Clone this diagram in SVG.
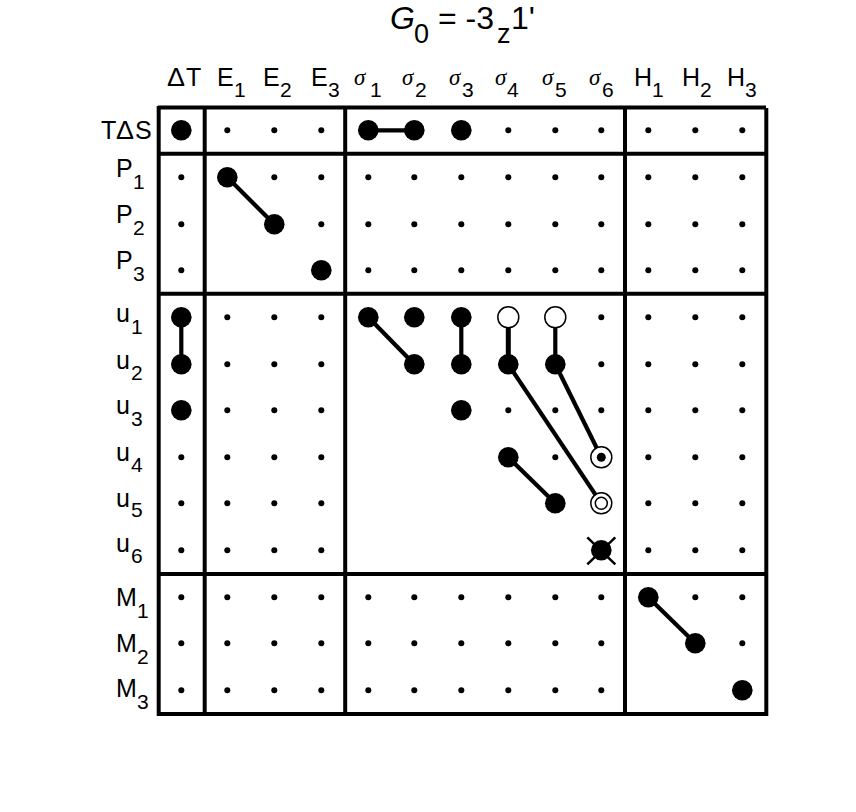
<svg xmlns="http://www.w3.org/2000/svg" xmlns:xlink="http://www.w3.org/1999/xlink" width="856" height="812" viewBox="0 0 856 812">
<style>
text{font-family:"Liberation Sans",Arial,sans-serif;fill:#000}
.m{font-size:25px}
.s{font-size:21px}
.g{font-family:"Liberation Serif","Times New Roman",serif;font-style:italic;font-size:23px}
.t{font-size:32px}
.ts{font-size:27px}
.grid line{stroke:#000;stroke-width:4}
.conn line{stroke:#000;stroke-width:4.200}
.open{fill:#fff;stroke:#000;stroke-width:1.500}
</style>
<defs>
<circle id="dot" r="3" fill="#000"/>
<circle id="b" r="10.300" fill="#000"/>
</defs>
<rect width="856" height="812" fill="#fff"/>
<g id="title"><text class="t" x="390" y="29" font-style="italic">G</text><text class="ts" x="414" y="43">0</text><text class="t" x="438" y="29">= -3</text><text class="ts" x="497" y="43">z</text><text class="t" x="511" y="29">1'</text></g>
<g id="column-labels">
<text class="m" x="167" y="86" textLength="18" lengthAdjust="spacingAndGlyphs">Δ</text><text class="m" x="186" y="86">T</text>
<text class="m" x="217" y="86">E</text><text class="s" x="234" y="97">1</text>
<text class="m" x="263" y="86">E</text><text class="s" x="280" y="97">2</text>
<text class="m" x="311" y="86">E</text><text class="s" x="328" y="97">3</text>
<text class="g" x="354" y="85">σ</text><text class="s" x="370" y="97">1</text>
<text class="g" x="402" y="85">σ</text><text class="s" x="415" y="97">2</text>
<text class="g" x="449" y="85">σ</text><text class="s" x="462" y="97">3</text>
<text class="g" x="495" y="85">σ</text><text class="s" x="507" y="97">4</text>
<text class="g" x="542" y="85">σ</text><text class="s" x="555" y="97">5</text>
<text class="g" x="589" y="85">σ</text><text class="s" x="602" y="97">6</text>
<text class="m" x="634" y="86">H</text><text class="s" x="652" y="97">1</text>
<text class="m" x="682" y="86">H</text><text class="s" x="700" y="97">2</text>
<text class="m" x="727" y="86">H</text><text class="s" x="745" y="97">3</text>
</g>
<g id="row-labels">
<text class="m" x="101" y="139">T</text><text class="m" x="116" y="139" textLength="18" lengthAdjust="spacingAndGlyphs">Δ</text><text class="m" x="135" y="139">S</text>
<text class="m" x="116" y="177">P</text><text class="s" x="133" y="189">1</text>
<text class="m" x="116" y="223">P</text><text class="s" x="133" y="235">2</text>
<text class="m" x="116" y="269">P</text><text class="s" x="133" y="281">3</text>
<text class="m" x="116" y="322">u</text><text class="s" x="131" y="334">1</text>
<text class="m" x="116" y="369">u</text><text class="s" x="131" y="380">2</text>
<text class="m" x="116" y="414">u</text><text class="s" x="131" y="426">3</text>
<text class="m" x="116" y="461">u</text><text class="s" x="131" y="472">4</text>
<text class="m" x="116" y="507">u</text><text class="s" x="131" y="517">5</text>
<text class="m" x="116" y="552">u</text><text class="s" x="131" y="563">6</text>
<text class="m" x="116" y="606">M</text><text class="s" x="137" y="618">1</text>
<text class="m" x="116" y="652">M</text><text class="s" x="137" y="664">2</text>
<text class="m" x="116" y="697">M</text><text class="s" x="137" y="709">3</text>
</g>
<g id="grid" class="grid">
<line x1="158" y1="107.500" x2="766" y2="107.500"/>
<line x1="158" y1="153.700" x2="767" y2="153.700"/>
<line x1="158" y1="293.700" x2="767" y2="293.700"/>
<line x1="158" y1="574" x2="767" y2="574"/>
<line x1="158" y1="714" x2="767" y2="714"/>
<line x1="158.700" y1="106" x2="158.700" y2="716"/>
<line x1="204.700" y1="106" x2="204.700" y2="716"/>
<line x1="345.200" y1="106" x2="345.200" y2="716"/>
<line x1="625" y1="106" x2="625" y2="716"/>
<line x1="766.300" y1="108" x2="766.300" y2="716"/>
</g>
<g id="connectors" class="conn" transform="translate(.3 .3)">
<line x1="368" y1="130" x2="414" y2="130"/>
<line x1="227" y1="177" x2="274" y2="224"/>
<line x1="181" y1="317" x2="181" y2="364"/>
<line x1="368" y1="317" x2="414" y2="364"/>
<line x1="461" y1="317" x2="461" y2="364"/>
<line x1="508" y1="317" x2="508" y2="364" style="stroke-width:5"/>
<line x1="555" y1="317" x2="555" y2="364"/>
<line x1="508" y1="364" x2="601" y2="503"/>
<line x1="555" y1="364" x2="601" y2="457"/>
<line x1="508" y1="457" x2="555" y2="503"/>
<line x1="648" y1="597" x2="695" y2="643"/>
</g>
<g id="small-nodes" transform="translate(.3 .3)">
<use xlink:href="#dot" x="227" y="130"/><use xlink:href="#dot" x="274" y="130"/><use xlink:href="#dot" x="321" y="130"/><use xlink:href="#dot" x="508" y="130"/><use xlink:href="#dot" x="555" y="130"/><use xlink:href="#dot" x="601" y="130"/><use xlink:href="#dot" x="648" y="130"/><use xlink:href="#dot" x="695" y="130"/><use xlink:href="#dot" x="742" y="130"/>
<use xlink:href="#dot" x="181" y="177"/><use xlink:href="#dot" x="274" y="177"/><use xlink:href="#dot" x="321" y="177"/><use xlink:href="#dot" x="368" y="177"/><use xlink:href="#dot" x="414" y="177"/><use xlink:href="#dot" x="461" y="177"/><use xlink:href="#dot" x="508" y="177"/><use xlink:href="#dot" x="555" y="177"/><use xlink:href="#dot" x="601" y="177"/><use xlink:href="#dot" x="648" y="177"/><use xlink:href="#dot" x="695" y="177"/><use xlink:href="#dot" x="742" y="177"/>
<use xlink:href="#dot" x="181" y="224"/><use xlink:href="#dot" x="321" y="224"/><use xlink:href="#dot" x="368" y="224"/><use xlink:href="#dot" x="414" y="224"/><use xlink:href="#dot" x="461" y="224"/><use xlink:href="#dot" x="508" y="224"/><use xlink:href="#dot" x="555" y="224"/><use xlink:href="#dot" x="601" y="224"/><use xlink:href="#dot" x="648" y="224"/><use xlink:href="#dot" x="695" y="224"/><use xlink:href="#dot" x="742" y="224"/>
<use xlink:href="#dot" x="181" y="270"/><use xlink:href="#dot" x="368" y="270"/><use xlink:href="#dot" x="414" y="270"/><use xlink:href="#dot" x="461" y="270"/><use xlink:href="#dot" x="508" y="270"/><use xlink:href="#dot" x="555" y="270"/><use xlink:href="#dot" x="601" y="270"/><use xlink:href="#dot" x="648" y="270"/><use xlink:href="#dot" x="695" y="270"/><use xlink:href="#dot" x="742" y="270"/>
<use xlink:href="#dot" x="227" y="317"/><use xlink:href="#dot" x="274" y="317"/><use xlink:href="#dot" x="321" y="317"/><use xlink:href="#dot" x="601" y="317"/><use xlink:href="#dot" x="648" y="317"/><use xlink:href="#dot" x="695" y="317"/><use xlink:href="#dot" x="742" y="317"/>
<use xlink:href="#dot" x="227" y="364"/><use xlink:href="#dot" x="274" y="364"/><use xlink:href="#dot" x="321" y="364"/><use xlink:href="#dot" x="601" y="364"/><use xlink:href="#dot" x="648" y="364"/><use xlink:href="#dot" x="695" y="364"/><use xlink:href="#dot" x="742" y="364"/>
<use xlink:href="#dot" x="227" y="410"/><use xlink:href="#dot" x="274" y="410"/><use xlink:href="#dot" x="321" y="410"/><use xlink:href="#dot" x="508" y="410"/><use xlink:href="#dot" x="555" y="410"/><use xlink:href="#dot" x="601" y="410"/><use xlink:href="#dot" x="648" y="410"/><use xlink:href="#dot" x="695" y="410"/><use xlink:href="#dot" x="742" y="410"/>
<use xlink:href="#dot" x="181" y="457"/><use xlink:href="#dot" x="227" y="457"/><use xlink:href="#dot" x="274" y="457"/><use xlink:href="#dot" x="321" y="457"/><use xlink:href="#dot" x="555" y="457"/><use xlink:href="#dot" x="648" y="457"/><use xlink:href="#dot" x="695" y="457"/><use xlink:href="#dot" x="742" y="457"/>
<use xlink:href="#dot" x="181" y="503"/><use xlink:href="#dot" x="227" y="503"/><use xlink:href="#dot" x="274" y="503"/><use xlink:href="#dot" x="321" y="503"/><use xlink:href="#dot" x="648" y="503"/><use xlink:href="#dot" x="695" y="503"/><use xlink:href="#dot" x="742" y="503"/>
<use xlink:href="#dot" x="181" y="550"/><use xlink:href="#dot" x="227" y="550"/><use xlink:href="#dot" x="274" y="550"/><use xlink:href="#dot" x="321" y="550"/><use xlink:href="#dot" x="648" y="550"/><use xlink:href="#dot" x="695" y="550"/><use xlink:href="#dot" x="742" y="550"/>
<use xlink:href="#dot" x="181" y="597"/><use xlink:href="#dot" x="227" y="597"/><use xlink:href="#dot" x="274" y="597"/><use xlink:href="#dot" x="321" y="597"/><use xlink:href="#dot" x="368" y="597"/><use xlink:href="#dot" x="414" y="597"/><use xlink:href="#dot" x="461" y="597"/><use xlink:href="#dot" x="508" y="597"/><use xlink:href="#dot" x="555" y="597"/><use xlink:href="#dot" x="601" y="597"/><use xlink:href="#dot" x="695" y="597"/><use xlink:href="#dot" x="742" y="597"/>
<use xlink:href="#dot" x="181" y="643"/><use xlink:href="#dot" x="227" y="643"/><use xlink:href="#dot" x="274" y="643"/><use xlink:href="#dot" x="321" y="643"/><use xlink:href="#dot" x="368" y="643"/><use xlink:href="#dot" x="414" y="643"/><use xlink:href="#dot" x="461" y="643"/><use xlink:href="#dot" x="508" y="643"/><use xlink:href="#dot" x="555" y="643"/><use xlink:href="#dot" x="601" y="643"/><use xlink:href="#dot" x="742" y="643"/>
<use xlink:href="#dot" x="181" y="690"/><use xlink:href="#dot" x="227" y="690"/><use xlink:href="#dot" x="274" y="690"/><use xlink:href="#dot" x="321" y="690"/><use xlink:href="#dot" x="368" y="690"/><use xlink:href="#dot" x="414" y="690"/><use xlink:href="#dot" x="461" y="690"/><use xlink:href="#dot" x="508" y="690"/><use xlink:href="#dot" x="555" y="690"/><use xlink:href="#dot" x="601" y="690"/>
</g>
<g id="large-nodes" transform="translate(.3 .3)">
<g id="n-TdS-dT"><use xlink:href="#b" x="181" y="130"/></g>
<g id="n-TdS-s1"><use xlink:href="#b" x="368" y="130"/></g>
<g id="n-TdS-s2"><use xlink:href="#b" x="414" y="130"/></g>
<g id="n-TdS-s3"><use xlink:href="#b" x="461" y="130"/></g>
<g id="n-P1-E1"><use xlink:href="#b" x="227" y="177"/></g>
<g id="n-P2-E2"><use xlink:href="#b" x="274" y="224"/></g>
<g id="n-P3-E3"><use xlink:href="#b" x="321" y="270"/></g>
<g id="n-u1-dT"><use xlink:href="#b" x="181" y="317"/></g>
<g id="n-u1-s1"><use xlink:href="#b" x="368" y="317"/></g>
<g id="n-u1-s2"><use xlink:href="#b" x="414" y="317"/></g>
<g id="n-u1-s3"><use xlink:href="#b" x="461" y="317"/></g>
<g id="n-u2-dT"><use xlink:href="#b" x="181" y="364"/></g>
<g id="n-u2-s2"><use xlink:href="#b" x="414" y="364"/></g>
<g id="n-u2-s3"><use xlink:href="#b" x="461" y="364"/></g>
<g id="n-u2-s4"><use xlink:href="#b" x="508" y="364"/></g>
<g id="n-u2-s5"><use xlink:href="#b" x="555" y="364"/></g>
<g id="n-u3-dT"><use xlink:href="#b" x="181" y="410"/></g>
<g id="n-u3-s3"><use xlink:href="#b" x="461" y="410"/></g>
<g id="n-u4-s4"><use xlink:href="#b" x="508" y="457"/></g>
<g id="n-u5-s5"><use xlink:href="#b" x="555" y="503"/></g>
<g id="n-M1-H1"><use xlink:href="#b" x="648" y="597"/></g>
<g id="n-M2-H2"><use xlink:href="#b" x="695" y="643"/></g>
<g id="n-M3-H3"><use xlink:href="#b" x="742" y="690"/></g>
<g id="n-u1-s4"><circle class="open" cx="508" cy="317" r="10.500"/></g>
<g id="n-u1-s5"><circle class="open" cx="555" cy="317" r="10.500"/></g>
<g id="n-u4-s6"><circle class="open" cx="601" cy="457" r="10.500"/><circle cx="601" cy="457" r="4.500" fill="#000"/></g>
<g id="n-u5-s6"><circle class="open" cx="601" cy="503" r="10.500"/><circle class="open" cx="601" cy="503" r="6"/></g>
<g id="n-u6-s6"><use xlink:href="#b" x="601" y="550"/><path d="M587 537L615 564M615 537L587 564" stroke="#000" stroke-width="2.500" fill="none"/></g>
</g>
</svg>
